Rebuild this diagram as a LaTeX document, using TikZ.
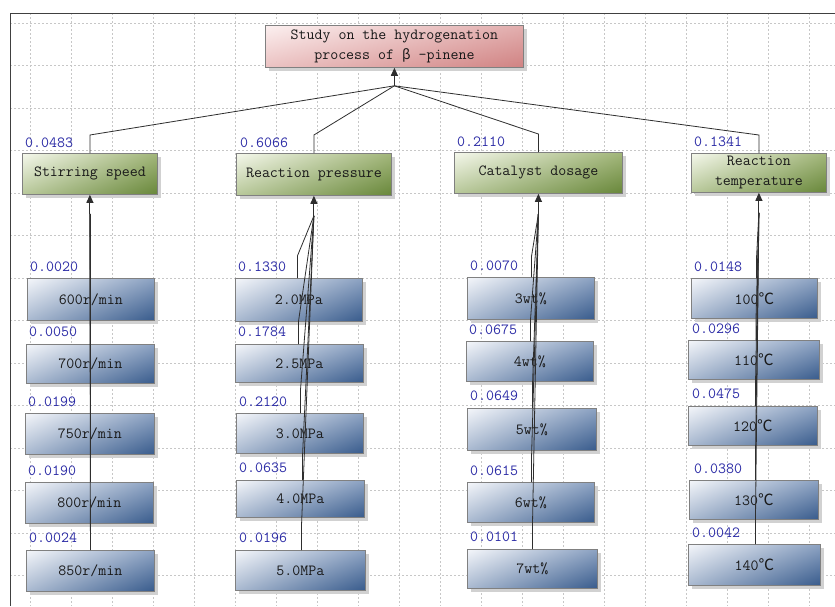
\documentclass[tikz,border=0pt]{standalone}
\usepackage{fontspec}
\newfontfamily\cjk{Noto Sans CJK SC}
\usetikzlibrary{shadows,shadings,arrows.meta}
\definecolor{rootUL}{HTML}{FCF0F0}
\definecolor{rootUR}{HTML}{E2AEAE}
\definecolor{rootLL}{HTML}{EBC2C2}
\definecolor{rootLR}{HTML}{D08282}
\definecolor{catUL}{HTML}{F5F8EC}
\definecolor{catUR}{HTML}{A2B67A}
\definecolor{catLL}{HTML}{B8C89A}
\definecolor{catLR}{HTML}{68873A}
\definecolor{leafUL}{HTML}{F4F6FA}
\definecolor{leafUR}{HTML}{8CA2C2}
\definecolor{leafLL}{HTML}{A9B9D0}
\definecolor{leafLR}{HTML}{385B8C}
\definecolor{wblue}{HTML}{2B2BA6}
\newcommand{\degc}{{\cjk ℃}}
\begin{document}
\begin{tikzpicture}[x=1pt,y=-1pt,
  gridline/.style={draw=black!22,dash pattern=on 2pt off 2pt,line width=0.6pt},
  basebox/.style={draw=black!50,line width=0.8pt,anchor=north west,inner sep=0pt,
    align=center,font=\ttfamily\fontsize{15.5}{20}\selectfont,text=black!90,
    drop shadow={shadow xshift=4pt,shadow yshift=-4pt,fill=black!18,opacity=1}},
  rootbox/.style={basebox,upper left=rootUL,upper right=rootUR,lower left=rootLL,lower right=rootLR},
  catbox/.style={basebox,upper left=catUL,upper right=catUR,lower left=catLL,lower right=catLR},
  leafbox/.style={basebox,upper left=leafUL,upper right=leafUR,lower left=leafLL,lower right=leafLR},
  wlabel/.style={anchor=west,inner sep=0pt,text=wblue,font=\ttfamily\fontsize{15.5}{16}\selectfont},
  conn/.style={draw=black!82,line width=0.8pt},
  arr/.style={conn,line width=1pt,-{Triangle[length=8pt,width=7pt]}}
]
\useasboundingbox (0,0) rectangle (835,606);
\fill[white] (0,0) rectangle (835,606);
% grid
\foreach \k in {0,...,19} \draw[gridline] ({30+41*\k},13) -- ({30+41*\k},606);
\foreach \k in {0,...,13} \draw[gridline] (10,{23+42.5*\k}) -- (835,{23+42.5*\k});
\draw[black!75,line width=1pt] (10,606) -- (10,13) -- (835,13);

% root
\node[rootbox,minimum width=258pt,minimum height=42pt] (root) at (265,25) {Study on the hydrogenation\\process of {\cjk\fontsize{13.5}{20}\selectfont β} -pinene};

% categories
\node[catbox,minimum width=135pt,minimum height=41pt] (cs) at (22,153) {Stirring speed};
\node[catbox,minimum width=155pt,minimum height=42pt] (cp) at (236,153) {Reaction pressure};
\node[catbox,minimum width=168pt,minimum height=41pt] (cc) at (454,152) {Catalyst dosage};
\node[catbox,minimum width=135pt,minimum height=39pt] (ct) at (691,153) {Reaction\\temperature};

% leaves: stirring
\node[leafbox,minimum width=127pt,minimum height=42pt] (s1) at (27,278) {600r/min};
\node[leafbox,minimum width=128pt,minimum height=39pt] (s2) at (26,344) {700r/min};
\node[leafbox,minimum width=129pt,minimum height=41pt] (s3) at (25,413) {750r/min};
\node[leafbox,minimum width=128pt,minimum height=41pt] (s4) at (25,482) {800r/min};
\node[leafbox,minimum width=128pt,minimum height=41pt] (s5) at (26,550) {850r/min};
% leaves: pressure
\node[leafbox,minimum width=127pt,minimum height=43pt] (p1) at (235,278) {2.0MPa};
\node[leafbox,minimum width=128pt,minimum height=38pt] (p2) at (235,344) {2.5MPa};
\node[leafbox,minimum width=127pt,minimum height=40pt] (p3) at (236,413) {3.0MPa};
\node[leafbox,minimum width=128pt,minimum height=37pt] (p4) at (236,480) {4.0MPa};
\node[leafbox,minimum width=130pt,minimum height=40pt] (p5) at (235,550) {5.0MPa};
% leaves: catalyst
\node[leafbox,minimum width=127pt,minimum height=42pt] (c1) at (467,277) {3wt\%};
\node[leafbox,minimum width=127pt,minimum height=40pt] (c2) at (466,341) {4wt\%};
\node[leafbox,minimum width=129pt,minimum height=42pt] (c3) at (467,408) {5wt\%};
\node[leafbox,minimum width=127pt,minimum height=40pt] (c4) at (467,482) {6wt\%};
\node[leafbox,minimum width=130pt,minimum height=39pt] (c5) at (467,549) {7wt\%};
% leaves: temperature
\node[leafbox,minimum width=126pt,minimum height=40pt] (t1) at (691,278) {100\degc};
\node[leafbox,minimum width=131pt,minimum height=39pt] (t2) at (688,340) {110\degc};
\node[leafbox,minimum width=129pt,minimum height=39pt] (t3) at (688,406) {120\degc};
\node[leafbox,minimum width=129pt,minimum height=39pt] (t4) at (689,480) {130\degc};
\node[leafbox,minimum width=132pt,minimum height=41pt] (t5) at (688,544) {140\degc};

% apex points
\coordinate (ra) at ([yshift=-18pt]root.south);
\coordinate (as) at ([yshift=-19pt]cs.south);
\coordinate (ap) at ([yshift=-20pt]cp.south);
\coordinate (ac) at ([yshift=-20pt]cc.south);
\coordinate (at4) at ([yshift=-20pt]ct.south);

% connectors root level
\foreach \n in {cs,cp,cc,ct} \draw[conn] (\n.north) -- ++(0,-18) -- (ra);
\draw[arr] (ra) -- (root.south);

% connectors leaf level
\foreach \n/\dx in {s1/-0.5,s2/0,s3/0.5,s4/0.5,s5/0} \draw[conn] ([xshift=\dx pt]\n.north) -- ++(0,-18) -- (as);
\draw[arr] (as) -- (cs.south);
\foreach \n/\dx in {p1/-1.5,p2/-1,p3/0.5,p4/2,p5/1} \draw[conn] ([xshift=\dx pt]\n.north) -- ++(0,-22) -- (ap);
\draw[arr] (ap) -- (cp.south);
\foreach \n/\dx in {c1/0.5,c2/0.5,c3/0.5,c4/0.5,c5/0} \draw[conn] ([xshift=\dx pt]\n.north) -- ++(0,-20) -- (ac);
\draw[arr] (ac) -- (cc.south);
\foreach \n/\dx in {t1/2,t2/2,t3/2.5,t4/1.5,t5/1} \draw[conn] ([xshift=\dx pt]\n.north) -- ++(0,-18) -- (at4);
\draw[arr] (at4) -- (ct.south);

% weight labels
\node[wlabel] (wcs) at (25,143) {0.0483};
\node[wlabel] (wcp) at (240,143) {0.6066};
\node[wlabel] (wcc) at (457,142) {0.2110};
\node[wlabel] (wct) at (694,142) {0.1341};

\node[wlabel] (ws1) at (30,267) {0.0020};
\node[wlabel] (ws2) at (29,332) {0.0050};
\node[wlabel] (ws3) at (28,402) {0.0199};
\node[wlabel] (ws4) at (28,471) {0.0190};
\node[wlabel] (ws5) at (29,538) {0.0024};

\node[wlabel] (wp1) at (238,267) {0.1330};
\node[wlabel] (wp2) at (238,332) {0.1784};
\node[wlabel] (wp3) at (239,402) {0.2120};
\node[wlabel] (wp4) at (239,468) {0.0635};
\node[wlabel] (wp5) at (239,538) {0.0196};

\node[wlabel] (wc1) at (470,266) {0.0070};
\node[wlabel] (wc2) at (469,330) {0.0675};
\node[wlabel] (wc3) at (470,396) {0.0649};
\node[wlabel] (wc4) at (470,471) {0.0615};
\node[wlabel] (wc5) at (470,537) {0.0101};

\node[wlabel] (wt1) at (694,267) {0.0148};
\node[wlabel] (wt2) at (692,329) {0.0296};
\node[wlabel] (wt3) at (692,394) {0.0475};
\node[wlabel] (wt4) at (694,469) {0.0380};
\node[wlabel] (wt5) at (692,533) {0.0042};
\end{tikzpicture}
\end{document}
